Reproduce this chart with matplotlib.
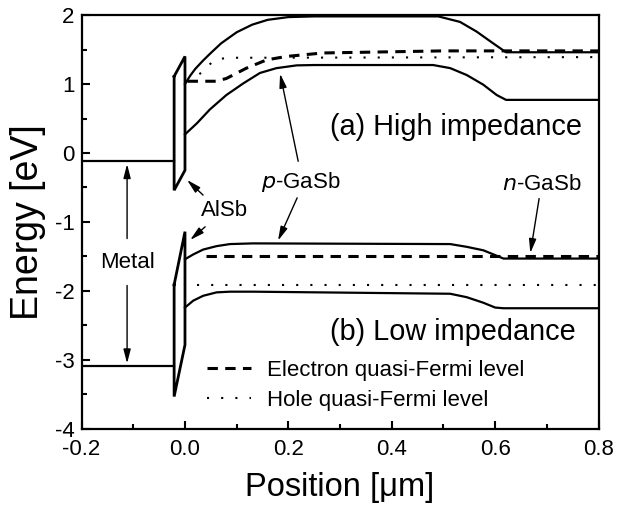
import matplotlib
matplotlib.use("Agg")
import matplotlib.pyplot as plt
from matplotlib.lines import Line2D

plt.rcParams['font.family'] = ['Liberation Sans', 'DejaVu Sans']

# ---------------- data ----------------
# (a) High impedance
a_ec_x = [0.0, 0.01, 0.02, 0.035, 0.05, 0.07, 0.10, 0.13, 0.16, 0.20, 0.25, 0.49, 0.532, 0.564, 0.596, 0.621, 0.80]
a_ec_y = [1.00, 1.12, 1.22, 1.34, 1.45, 1.59, 1.75, 1.86, 1.93, 1.97, 1.98, 1.98, 1.90, 1.76, 1.59, 1.46, 1.46]
a_ev_x = [0.0, 0.023, 0.048, 0.08, 0.113, 0.145, 0.177, 0.216, 0.25, 0.48, 0.513, 0.545, 0.577, 0.603, 0.621, 0.80]
a_ev_y = [0.27, 0.43, 0.63, 0.84, 1.01, 1.16, 1.23, 1.27, 1.275, 1.275, 1.23, 1.13, 0.99, 0.84, 0.77, 0.77]
a_efn_x = [0.005, 0.06, 0.08, 0.119, 0.158, 0.197, 0.267, 0.50, 0.80]
a_efn_y = [1.04, 1.04, 1.08, 1.23, 1.35, 1.40, 1.45, 1.48, 1.48]
a_efp_x = [0.005, 0.035, 0.055, 0.08, 0.80]
a_efp_y = [1.03, 1.18, 1.34, 1.38, 1.39]
a_metal_x = [-0.2, -0.021]
a_metal_y = [-0.11, -0.11]
a_barrier_x = [-0.021, 0.0, 0.0, -0.021, -0.021]
a_barrier_y = [1.11, 1.40, -0.25, -0.54, 1.11]

# (b) Low impedance
b_ec_x = [0.0, 0.016, 0.035, 0.061, 0.087, 0.132, 0.513, 0.545, 0.577, 0.60, 0.616, 0.80]
b_ec_y = [-1.54, -1.47, -1.40, -1.35, -1.32, -1.31, -1.32, -1.36, -1.41, -1.48, -1.53, -1.53]
b_ev_x = [0.0, 0.016, 0.035, 0.061, 0.087, 0.132, 0.513, 0.545, 0.577, 0.60, 0.616, 0.80]
b_ev_y = [-2.24, -2.14, -2.07, -2.02, -2.01, -2.01, -2.04, -2.09, -2.17, -2.24, -2.25, -2.25]
b_efn_x = [0.04, 0.80]
b_efn_y = [-1.50, -1.50]
b_efp_x = [0.023, 0.80]
b_efp_y = [-1.91, -1.91]
b_metal_x = [-0.2, -0.021]
b_metal_y = [-3.09, -3.09]
b_barrier_x = [-0.021, 0.0, 0.0, -0.021, -0.021]
b_barrier_y = [-1.91, -1.14, -2.78, -3.53, -1.91]

legend_labels = ["Electron quasi-Fermi level", "Hole quasi-Fermi level"]
x_ticks = [-0.2, 0.0, 0.2, 0.4, 0.6, 0.8]
y_ticks = [-4, -3, -2, -1, 0, 1, 2]

# ---------------- figure ----------------
fig = plt.figure(figsize=(6.19, 5.14), dpi=100)
ax = fig.add_axes([0.1318, 0.1654, 0.967 - 0.1318, 0.9708 - 0.1654])

lw = 1.6
for xs, ys in [(a_ec_x, a_ec_y), (a_ev_x, a_ev_y), (b_ec_x, b_ec_y), (b_ev_x, b_ev_y),
               (a_metal_x, a_metal_y), (b_metal_x, b_metal_y)]:
    ax.plot(xs, ys, color='black', lw=lw, solid_joinstyle='round')
for xs, ys in [(a_barrier_x, a_barrier_y), (b_barrier_x, b_barrier_y)]:
    ax.plot(xs, ys, color='black', lw=2.0, solid_joinstyle='miter')

dash_style = dict(color='black', lw=2.2, linestyle=(0, (3.4, 2.4)))
dot_style = dict(color='black', lw=1.5, linestyle=(0, (1, 5.8)))
ax.plot(a_efn_x, a_efn_y, **dash_style)
ax.plot(b_efn_x, b_efn_y, **dash_style)
ax.plot(a_efp_x, a_efp_y, **dot_style)
ax.plot(b_efp_x, b_efp_y, **dot_style)

ax.legend([Line2D([], [], **dash_style), Line2D([], [], **dot_style)], legend_labels,
          loc='upper left', bbox_to_anchor=(0.243, 0.167), frameon=False,
          fontsize=16, handlelength=1.95, handletextpad=0.75, labelspacing=0.42,
          borderpad=0, borderaxespad=0)

# annotations
arr = dict(arrowstyle='-|>,head_length=0.7,head_width=0.18', color='black', lw=1.0,
           mutation_scale=12, shrinkA=0, shrinkB=0)
ax.text(-0.112, -1.58, "Metal", ha='center', va='center', fontsize=16)
ax.annotate("", xy=(-0.112, -0.16), xytext=(-0.112, -1.24), arrowprops=arr)
ax.annotate("", xy=(-0.112, -3.05), xytext=(-0.112, -1.92), arrowprops=arr)

ax.text(0.077, -0.83, "AlSb", ha='center', va='center', fontsize=16)
ax.annotate("", xy=(0.004, -0.39), xytext=(0.035, -0.61), arrowprops=arr)
ax.annotate("", xy=(0.01, -1.26), xytext=(0.039, -1.07), arrowprops=arr)

ax.text(0.224, -0.42, r"$\it{p}$-GaSb", ha='center', va='center', fontsize=16)
ax.annotate("", xy=(0.184, 1.15), xytext=(0.219, -0.12), arrowprops=arr)
ax.annotate("", xy=(0.18, -1.27), xytext=(0.217, -0.65), arrowprops=arr)

ax.text(0.69, -0.46, r"$\it{n}$-GaSb", ha='center', va='center', fontsize=16)
ax.annotate("", xy=(0.668, -1.45), xytext=(0.685, -0.66), arrowprops=arr)

ax.text(0.28, 0.38, "(a) High impedance", ha='left', va='center', fontsize=20.8)
ax.text(0.28, -2.59, "(b) Low impedance", ha='left', va='center', fontsize=20.8)

ax.set_xlim(-0.2, 0.8)
ax.set_ylim(-4, 2)
ax.set_xticks(x_ticks)
ax.set_xticklabels(["%.1f" % v for v in x_ticks])
ax.set_yticks(y_ticks)
ax.set_yticklabels([str(v) for v in y_ticks])
ax.set_xticks([-0.1, 0.1, 0.3, 0.5, 0.7], minor=True)
ax.set_yticks([-3.5, -2.5, -1.5, -0.5, 0.5, 1.5], minor=True)
ax.tick_params(which='both', direction='in', top=False, right=False, width=1.5, labelsize=16)
ax.tick_params(axis='x', which='major', length=6, pad=7)
ax.tick_params(axis='y', which='major', length=6, pad=5)
ax.tick_params(which='minor', length=3.5)
for s in ax.spines.values():
    s.set_linewidth(1.6)

ax.set_xlabel("Position [\u03bcm]", fontsize=23.5, labelpad=9)
ax.set_ylabel("Energy [eV]", fontsize=27, labelpad=6)

fig.savefig("out.png", dpi=100)
